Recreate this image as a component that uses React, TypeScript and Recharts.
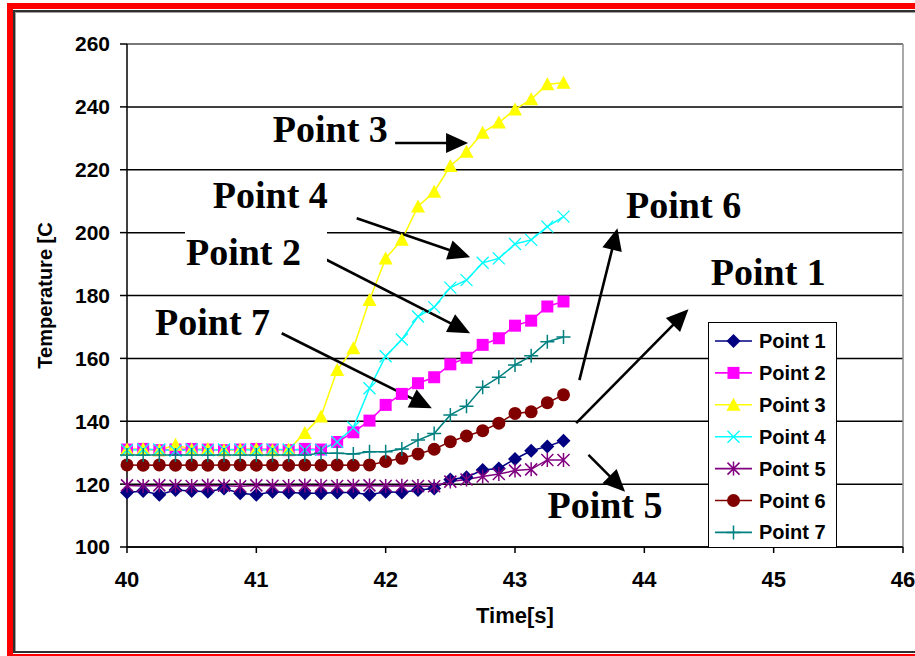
import React from "react";
import { CartesianGrid, Line, LineChart, ReferenceDot, ReferenceLine, XAxis, YAxis } from "recharts";

const time = [
  40, 40.125, 40.25, 40.375, 40.5, 40.625, 40.75, 40.875, 41, 41.125, 41.25, 41.375, 41.5, 41.625,
  41.75, 41.875, 42, 42.125, 42.25, 42.375, 42.5, 42.625, 42.75, 42.875, 43, 43.125, 43.25, 43.375
];

const point1 = [
  117.3, 117.8, 116.6, 118.1, 117.8, 117.6, 118.6, 117.1, 116.6, 117.6, 117.3, 117.1, 117.1, 117.3,
  117.3, 116.6, 117.6, 117.3, 118.1, 118.6, 121.5, 122.2, 124.5, 125.0, 128.0, 130.6, 132.0, 133.8
];
const point2 = [
  131.0, 131.2, 130.8, 131.0, 131.2, 131.0, 130.8, 131.0, 131.2, 131.0, 130.8, 131.2, 131.0, 133.4,
  136.5, 140.2, 145.2, 148.7, 152.1, 154.0, 158.1, 160.2, 164.3, 166.4, 170.4, 172.0, 176.5, 178.1
];
const point3 = [
  131.0, 131.2, 130.8, 132.5, 131.0, 131.2, 130.8, 131.0, 131.2, 130.8, 131.0, 136.3, 141.5, 156.3,
  163.2, 178.6, 191.8, 197.7, 208.3, 213.0, 221.2, 225.7, 231.8, 235.0, 239.2, 242.4, 247.2, 247.7
];
const point4 = [
  130.8, 131.0, 131.0, 130.6, 131.0, 130.8, 131.0, 131.0, 130.8, 131.0, 131.0, 130.9, 130.9, 133.4,
  138.0, 150.5, 160.7, 166.0, 173.3, 176.3, 182.5, 184.9, 190.4, 191.8, 196.4, 197.7, 201.9, 205.1
];
const point5 = [
  119.6, 119.4, 119.6, 119.5, 119.4, 119.6, 119.5, 119.3, 119.6, 119.5, 119.4, 119.6, 119.5, 119.4,
  119.5, 119.6, 119.4, 119.5, 119.4, 119.3, 120.8, 121.5, 122.4, 123.2, 124.3, 124.7, 127.7, 127.7
];
const point6 = [
  126.1, 126.0, 126.1, 126.0, 126.1, 126.0, 126.1, 126.1, 126.0, 126.1, 126.0, 126.1, 126.0, 126.1,
  126.0, 126.1, 127.2, 128.2, 129.6, 131.1, 133.5, 135.3, 137.0, 139.4, 142.5, 143.0, 145.9, 148.4
];
const point7 = [
  129.3, 129.3, 129.3, 129.3, 129.3, 129.3, 129.3, 129.3, 129.3, 129.3, 129.3, 129.3, 129.8, 129.8,
  129.6, 130.3, 130.3, 131.2, 134.0, 136.1, 142.0, 144.8, 150.8, 154.0, 157.9, 160.8, 165.3, 166.8
];

const xTicks = [40, 41, 42, 43, 44, 45, 46];
const yTicks = [100, 120, 140, 160, 180, 200, 220, 240, 260];

const series = [
  { key: "p1", name: "Point 1", values: point1, color: "#000080", shape: "diamond" },
  { key: "p2", name: "Point 2", values: point2, color: "#FF00FF", shape: "square" },
  { key: "p3", name: "Point 3", values: point3, color: "#FFFF00", shape: "triangle" },
  { key: "p4", name: "Point 4", values: point4, color: "#00FFFF", shape: "x" },
  { key: "p5", name: "Point 5", values: point5, color: "#800080", shape: "star" },
  { key: "p6", name: "Point 6", values: point6, color: "#800000", shape: "circle" },
  { key: "p7", name: "Point 7", values: point7, color: "#008080", shape: "plus" }
];

// callout labels and arrows, in data units (time, temperature)
const labels = [
  { text: "Point 3", t: 41.127, v: 228.8 },
  { text: "Point 4", t: 40.663, v: 207.7 },
  { text: "Point 2", t: 40.456, v: 189.7, boxed: true },
  { text: "Point 7", t: 40.217, v: 167.4 },
  { text: "Point 6", t: 43.859, v: 204.6 },
  { text: "Point 1", t: 44.514, v: 183.4 },
  { text: "Point 5", t: 43.251, v: 109.1 }
];

const arrows = [
  { from: [42.073, 228.5], to: [42.637, 228.5] },
  { from: [41.776, 204.6], to: [42.653, 192.2] },
  { from: [41.493, 192.4], to: [42.653, 168.0] },
  { from: [41.196, 168.0], to: [42.357, 144.1] },
  { from: [43.498, 153.1], to: [43.792, 201.4] },
  { from: [43.473, 139.4], to: [44.341, 175.6] },
  { from: [43.568, 129.3], to: [43.851, 117.6] }
];

const data = time.map((t, i) => {
  const row: Record<string, number> = { t };
  series.forEach((s) => {
    row[s.key] = s.values[i];
  });
  return row;
});

const sans = '"Liberation Sans", Arial, sans-serif';
const serif = '"Liberation Serif", "Times New Roman", serif';

function Marker({ shape, color, cx, cy }: { shape: string; color: string; cx: number; cy: number }) {
  switch (shape) {
    case "diamond":
      return <polygon points={`${cx},${cy - 7} ${cx + 7},${cy} ${cx},${cy + 7} ${cx - 7},${cy}`} fill={color} />;
    case "square":
      return <rect x={cx - 6} y={cy - 6} width={12} height={12} fill={color} />;
    case "triangle":
      return <polygon points={`${cx},${cy - 7} ${cx + 7},${cy + 6} ${cx - 7},${cy + 6}`} fill={color} />;
    case "x":
      return (
        <path
          d={`M${cx - 6},${cy - 6}L${cx + 6},${cy + 6}M${cx - 6},${cy + 6}L${cx + 6},${cy - 6}`}
          stroke={color}
          strokeWidth={1.3}
          fill="none"
        />
      );
    case "star":
      return (
        <path
          d={`M${cx - 6},${cy - 6}L${cx + 6},${cy + 6}M${cx - 6},${cy + 6}L${cx + 6},${cy - 6}M${cx},${cy - 7}L${cx},${cy + 7}`}
          stroke={color}
          strokeWidth={1.5}
          fill="none"
        />
      );
    case "circle":
      return <circle cx={cx} cy={cy} r={6.5} fill={color} />;
    default:
      return (
        <path
          d={`M${cx - 7},${cy}L${cx + 7},${cy}M${cx},${cy - 7}L${cx},${cy + 7}`}
          stroke={color}
          strokeWidth={1.5}
          fill="none"
        />
      );
  }
}

function arrowShape(p: any) {
  const { x1, y1, x2, y2 } = p;
  const dx = x2 - x1;
  const dy = y2 - y1;
  const len = Math.hypot(dx, dy) || 1;
  const ux = dx / len;
  const uy = dy / len;
  const head = 22;
  const half = 10;
  const bx = x2 - ux * head;
  const by = y2 - uy * head;
  return (
    <g>
      <line x1={x1} y1={y1} x2={bx + ux * 3} y2={by + uy * 3} stroke="#000" strokeWidth={2.6} />
      <polygon
        points={`${x2},${y2} ${bx - uy * half},${by + ux * half} ${bx + uy * half},${by - ux * half}`}
        fill="#000"
      />
    </g>
  );
}

function labelShape(text: string, boxed?: boolean) {
  return (p: any) => (
    <g>
      {boxed ? <rect x={p.cx - 1} y={p.cy - 38} width={142} height={48} fill="#fff" /> : null}
      <text x={p.cx} y={p.cy} fontFamily={serif} fontWeight="bold" fontSize={38} fill="#000">
        {text}
      </text>
    </g>
  );
}

function LegendBox() {
  return (
    <div
      style={{
        position: "absolute",
        left: 708,
        top: 322,
        width: 129,
        height: 226,
        boxSizing: "border-box",
        border: "1.5px solid #000",
        background: "#fff"
      }}
    >
      <svg width={126} height={223}>
        {series.map((s, i) => {
          const cy = 18 + i * 31.9;
          return (
            <g key={s.key}>
              <line x1={6} x2={43} y1={cy} y2={cy} stroke={s.color} strokeWidth={1.6} />
              <Marker shape={s.shape} color={s.color} cx={24.5} cy={cy} />
              <text x={50} y={cy + 7} fontFamily={sans} fontWeight="bold" fontSize={20} fill="#000">
                {s.name}
              </text>
            </g>
          );
        })}
      </svg>
    </div>
  );
}

export default function App() {
  return (
    <div style={{ position: "absolute", left: 0, top: 0, width: 915, height: 656, overflow: "hidden", background: "#fff" }}>
      <div
        style={{
          position: "absolute",
          left: 7,
          top: 3,
          width: 930,
          height: 657,
          boxSizing: "border-box",
          border: "6px solid #ff0000"
        }}
      />
      <div
        style={{
          position: "absolute",
          left: 13,
          top: 10,
          width: 930,
          height: 643,
          boxSizing: "border-box",
          border: "2px solid #303030",
          boxShadow: "inset 1px 1px 0 #a0a0a0"
        }}
      />
      <div style={{ position: "absolute", left: 0, top: 0 }}>
        <LineChart width={915} height={656} data={data} margin={{ top: 44, right: 12, bottom: 29, left: 0 }}>
          <CartesianGrid horizontal vertical={false} stroke="#000" strokeWidth={1.5} />
          <XAxis
            type="number"
            dataKey="t"
            domain={[40, 46]}
            ticks={xTicks}
            interval={0}
            height={80}
            tickSize={6}
            tickMargin={18}
            axisLine={{ stroke: "#000", strokeWidth: 1.5 }}
            tickLine={{ stroke: "#000", strokeWidth: 1.5 }}
            tick={{ fill: "#000", fontSize: 22, fontWeight: "bold", fontFamily: sans }}
            label={{
              value: "Time[s]",
              position: "insideBottom",
              offset: 4,
              style: { fill: "#000", fontSize: 22, fontWeight: "bold", fontFamily: sans }
            }}
          />
          <YAxis
            type="number"
            domain={[100, 260]}
            ticks={yTicks}
            interval={0}
            width={127}
            tickSize={7}
            tickMargin={10}
            axisLine={{ stroke: "#000", strokeWidth: 1.5 }}
            tickLine={{ stroke: "#000", strokeWidth: 1.5 }}
            tick={{ fill: "#000", fontSize: 21, fontWeight: "bold", fontFamily: sans }}
            label={{
              value: "Temperature [C",
              angle: -90,
              position: "insideLeft",
              offset: 45,
              style: { fill: "#000", fontSize: 20, fontWeight: "bold", fontFamily: sans, textAnchor: "middle" }
            }}
          />
          <ReferenceLine y={260} stroke="#8c8c8c" strokeWidth={1.5} />
          <ReferenceLine x={46} stroke="#8c8c8c" strokeWidth={1.5} />
          {series.map((s) => (
            <Line
              key={s.key}
              type="linear"
              dataKey={s.key}
              name={s.name}
              stroke={s.color}
              strokeWidth={1.5}
              isAnimationActive={false}
              activeDot={false}
              dot={(p: any) => <Marker key={`${s.key}-${p.index}`} shape={s.shape} color={s.color} cx={p.cx} cy={p.cy} />}
            />
          ))}
          {labels.map((l) => (
            <ReferenceDot key={l.text} x={l.t} y={l.v} r={0} shape={labelShape(l.text, l.boxed)} />
          ))}
          {arrows.map((a, i) => (
            <ReferenceLine
              key={`arrow-${i}`}
              segment={[
                { x: a.from[0], y: a.from[1] },
                { x: a.to[0], y: a.to[1] }
              ]}
              shape={arrowShape}
            />
          ))}
        </LineChart>
      </div>
      <LegendBox />
    </div>
  );
}
